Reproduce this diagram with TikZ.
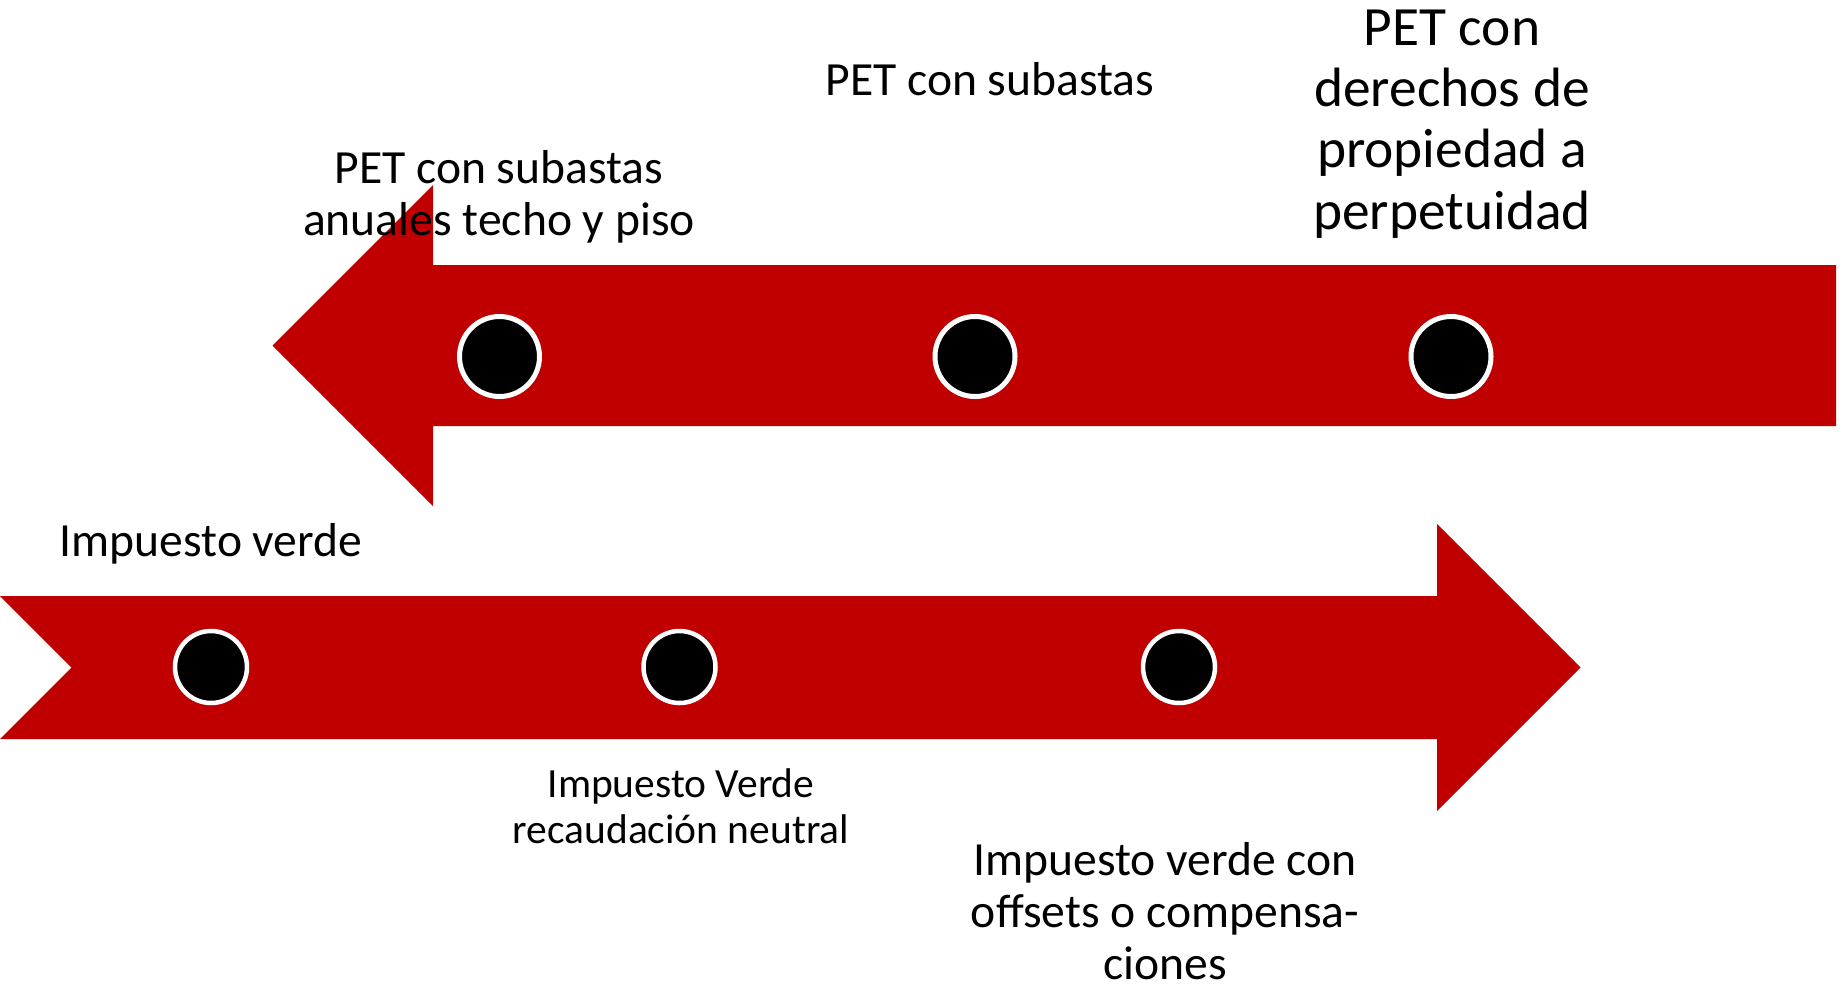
\documentclass[tikz,border=0pt]{standalone}
\usepackage{fontspec}
\setmainfont{Carlito}
\definecolor{arrowred}{RGB}{192,0,0}
\tikzset{
  redarrow/.style={fill=arrowred, draw=none},
  bigdot/.style={circle, fill=black, draw=white, line width=2.5pt, minimum size=40pt, inner sep=0pt},
  smalldot/.style={circle, fill=black, draw=white, line width=2.25pt, minimum size=36pt, inner sep=0pt},
  lbl/.style={inner sep=0pt, anchor=base, text=black},
  fmed/.style={font=\fontsize{23.8pt}{26.2pt}\selectfont},
  fbig/.style={font=\fontsize{27.7pt}{30.7pt}\selectfont},
  fsmall/.style={font=\fontsize{20.75pt}{23pt}\selectfont},
}
\newcommand{\mlines}[1]{\vtop{\let\\\cr\halign{\hfil##\hfil\cr#1\crcr}}}
\begin{document}
\begin{tikzpicture}[x=0.5pt, y=-0.5pt]
\useasboundingbox (0,0) rectangle (1843,992);
% top arrow (pointing left)
\path[redarrow] (1836,265) -- (433,265) -- (433,185) -- (272.5,345.5) -- (433,506) -- (433,426) -- (1836,426) -- cycle;
% bottom arrow (pointing right)
\path[redarrow] (0,596) -- (1437,596) -- (1437,524) -- (1580.5,667.5) -- (1437,811) -- (1437,739) -- (0,739) -- (71.5,667.5) -- cycle;
% dots
\node[bigdot] (t1) at (499.5,356.5) {};
\node[bigdot] (t2) at (975,356.5) {};
\node[bigdot] (t3) at (1451,356.5) {};
\node[smalldot] (b1) at (211,667) {};
\node[smalldot] (b2) at (679.5,667) {};
\node[smalldot] (b3) at (1179,667) {};
% labels
\node[lbl, fmed] (l1) at (499,183.3) {\mlines{PET con subastas\\anuales techo y piso}};
\node[lbl, fmed] (l2) at (990,95) {PET con subastas};
\node[lbl, fbig] (l3) at (1452,45) {\mlines{PET con\\derechos de\\propiedad a\\perpetuidad}};
\node[lbl, fmed] (l4) at (211,556) {Impuesto verde};
\node[lbl, fsmall] (l5) at (681,797) {\mlines{Impuesto Verde\\recaudación neutral}};
\node[lbl, fmed] (l6) at (1165,875) {\mlines{Impuesto verde con\\offsets o compensa-\\ciones}};
\end{tikzpicture}
\end{document}
